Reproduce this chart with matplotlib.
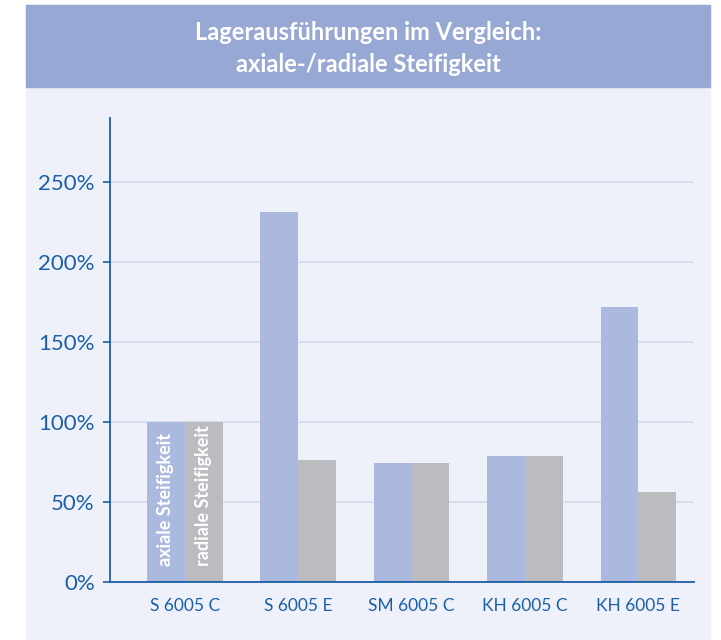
import numpy as np
import matplotlib.pyplot as plt
from matplotlib.patches import Rectangle
from matplotlib.ticker import FuncFormatter

# Data (stiffness relative to S 6005 C, in %)
categories = ['S 6005 C', 'S 6005 E', 'SM 6005 C', 'KH 6005 C', 'KH 6005 E']
axial = [100, 231, 74, 78.5, 172]
radial = [100, 76, 74, 78.5, 56]
series_labels = ['axiale Steifigkeit', 'radiale Steifigkeit']
title_lines = ['Lagerausführungen im Vergleich:', 'axiale-/radiale Steifigkeit']

# Colours
PANEL = '#EEF1F9'
HEADER = '#98A8D4'
AXIAL_C = '#ACB9DE'
RADIAL_C = '#BBBCC0'
BLUE = '#1B5FA8'
GRID = '#D9DEEF'

W, H = 721, 640
fig = plt.figure(figsize=(W / 100, H / 100), dpi=100)
fig.patch.set_facecolor('white')

# Panel and header band, in pixel units
def px_rect(x0, y0, x1, y1, color):
    fig.patches.append(Rectangle((x0 / W, 1 - y1 / H), (x1 - x0) / W, (y1 - y0) / H,
                                 transform=fig.transFigure, color=color, zorder=-5))

px_rect(26, 5, 710, 640, PANEL)
px_rect(26, 5, 710, 87, HEADER)

fig.text(368 / W, 1 - 32 / H, title_lines[0], color='white', fontsize=17,
         fontweight='bold', family='Lato', ha='center', va='center')
fig.text(368 / W, 1 - 65 / H, title_lines[1], color='white', fontsize=17,
         fontweight='bold', family='Lato', ha='center', va='center')

ax = fig.add_axes([110 / W, 1 - 581.7 / H, (694 - 110) / W, (581.7 - 118) / H])
ax.set_facecolor('none')

x = np.arange(len(categories))
w = 1 / 3
ax.bar(x - w / 2, axial, width=w, color=AXIAL_C, zorder=2)
ax.bar(x + w / 2, radial, width=w, color=RADIAL_C, zorder=2)

# Series names written inside the first pair of bars
for xi, name in zip([x[0] - w / 2, x[0] + w / 2], series_labels):
    ax.text(xi, 10, name, rotation=90, color='white', fontsize=13,
            fontweight='bold', family='Lato', ha='center', va='bottom', zorder=3)

ax.set_xlim(-0.66, 4.49)
ax.set_ylim(0, 290)
ax.set_yticks([0, 50, 100, 150, 200, 250])
ax.yaxis.set_major_formatter(FuncFormatter(lambda v, p: f'{int(v)}%'))
ax.set_xticks(x)
ax.set_xticklabels(categories)

ax.grid(axis='y', color=GRID, linewidth=1.5, zorder=1)
ax.set_axisbelow(True)

for s in ['top', 'right']:
    ax.spines[s].set_visible(False)
for s in ['left', 'bottom']:
    ax.spines[s].set_color(BLUE)
    ax.spines[s].set_linewidth(1.3)

ax.tick_params(axis='y', colors=BLUE, labelsize=16, length=5, width=1.2, pad=6)
ax.tick_params(axis='x', colors=BLUE, labelsize=12.5, length=0, pad=12)
for lab in ax.get_yticklabels() + ax.get_xticklabels():
    lab.set_family('Lato')

fig.savefig('out.png', dpi=100)
